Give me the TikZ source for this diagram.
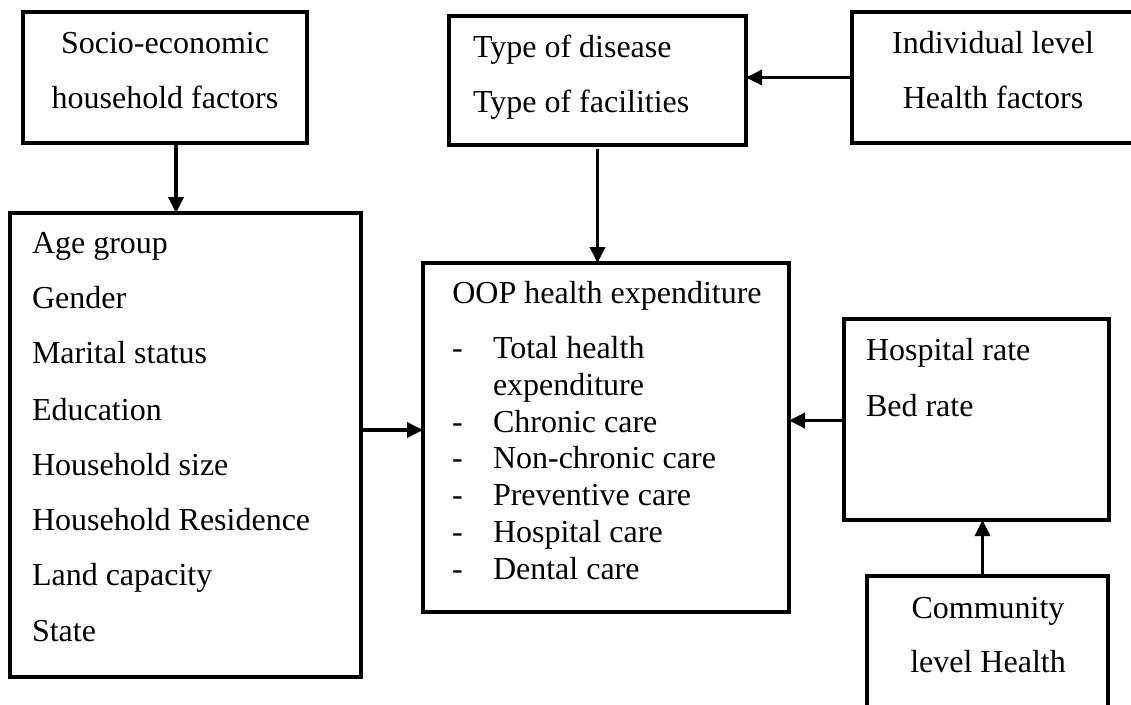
\documentclass[tikz,border=0pt]{standalone}
\usepackage{fontspec}
\setmainfont{Liberation Serif}
\usetikzlibrary{arrows.meta}
\begin{document}
\begin{tikzpicture}[x=1pt,y=-1pt,
  box/.style={draw,line width=3.5pt,inner sep=0pt,outer sep=0pt},
  txt/.style={inner sep=0pt,outer sep=0pt,font=\fontsize{32}{38}\selectfont},
  lt/.style={txt,anchor=base west},
  ct/.style={txt,anchor=base},
  arr/.style={line width=3.5pt,-{Triangle[length=16pt,width=15pt]}}]
\useasboundingbox (0,0) rectangle (1131,704);
\fill[white] (0,0) rectangle (1131,704);
% boxes
\node[box,minimum width=284pt,minimum height=131pt] (A) at (165,77.5) {};
\node[box,minimum width=351pt,minimum height=464pt] (B) at (185.5,445) {};
\node[box,minimum width=297pt,minimum height=129pt] (C) at (597.5,80.5) {};
\node[box,minimum width=284pt,minimum height=131pt] (D) at (994,77.5) {};
\node[box,minimum width=366pt,minimum height=349pt] (E) at (606,437.5) {};
\node[box,minimum width=265pt,minimum height=201pt] (F) at (976.5,419.5) {};
\node[box,minimum width=241pt,minimum height=154pt] (G) at (987.5,653) {};
% texts A
\node[ct] (a1) at (165,53) {Socio-economic};
\node[ct] (a2) at (165,108) {household factors};
% texts B
\node[lt] (b1) at (32,253) {Age group};
\node[lt] (b2) at (32,308) {Gender};
\node[lt] (b3) at (32,363) {Marital status};
\node[lt] (b4) at (32,420) {Education};
\node[lt] (b5) at (32,475) {Household size};
\node[lt] (b6) at (32,530) {Household Residence};
\node[lt] (b7) at (32,585) {Land capacity};
\node[lt] (b8) at (32,641) {State};
% texts C
\node[lt] (c1) at (473,57) {Type of disease};
\node[lt] (c2) at (473,112) {Type of facilities};
% texts D
\node[ct] (d1) at (993,53) {Individual level};
\node[ct] (d2) at (993,108) {Health factors};
% texts E
\node[ct] (e0) at (607,303) {OOP health expenditure};
\node[lt] (e1d) at (452,358) {-};
\node[lt] (e1) at (493,358) {Total health};
\node[lt] (e1b) at (493,395) {expenditure};
\node[lt] (e2d) at (452,432) {-};
\node[lt] (e2) at (493,432) {Chronic care};
\node[lt] (e3d) at (452,468) {-};
\node[lt] (e3) at (493,468) {Non-chronic care};
\node[lt] (e4d) at (452,505) {-};
\node[lt] (e4) at (493,505) {Preventive care};
\node[lt] (e5d) at (452,542) {-};
\node[lt] (e5) at (493,542) {Hospital care};
\node[lt] (e6d) at (452,579) {-};
\node[lt] (e6) at (493,579) {Dental care};
% texts F
\node[lt] (f1) at (866,360) {Hospital rate};
\node[lt] (f2) at (866,416) {Bed rate};
% texts G
\node[ct] (g1) at (988,618) {Community};
\node[ct] (g2) at (988,672) {level Health};
% arrows
\draw[arr] ([xshift=11pt]A.south) -- ([xshift=11pt]A.south |- B.north);
\draw[arr] ([yshift=-4pt]C.south) -- (C.south |- E.north);
\draw[arr] (D.west) -- (D.west -| C.east);
\draw[arr] ([yshift=15pt]B.east) -- ([yshift=15pt]B.east -| E.west);
\draw[arr] ([yshift=-1pt]F.west) -- ([yshift=-1pt]F.west -| E.east);
\draw[arr] ([xshift=-5pt]G.north) -- ([xshift=-5pt]G.north |- F.south);
\end{tikzpicture}
\end{document}
